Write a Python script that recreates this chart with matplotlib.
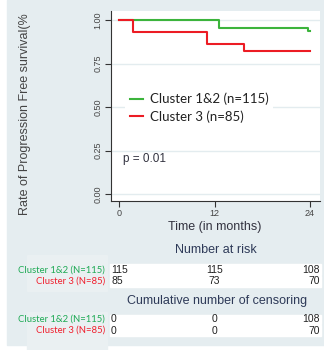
import matplotlib
matplotlib.use("Agg")
import matplotlib.pyplot as plt
from matplotlib.patches import Rectangle
from matplotlib import transforms

# survival curves (step functions)
times_12 = [0, 12.6, 23.8, 24]
surv_12 = [1.0, 0.956, 0.939, 0.939]
times_3 = [0, 1.8, 11.1, 15.7, 24]
surv_3 = [1.0, 0.929, 0.864, 0.824, 0.824]

labels = ['Cluster 1&2 (n=115)', 'Cluster 3 (n=85)']
row_labels = ['Cluster 1&2 (N=115)', 'Cluster 3 (N=85)']
x_ticks = [0, 12, 24]
y_ticks = [0.0, 0.25, 0.5, 0.75, 1.0]

# tables under the plot
risk_12 = [115, 115, 108]
risk_3 = [85, 73, 70]
cens_12 = [0, 0, 108]
cens_3 = [0, 0, 70]

green = '#3cb43c'
red = '#ec1c24'
lab_green = '#1faa55'
lab_red = '#f0202e'
bg = '#e5edf0'
txt = '#333340'

W, H = 324, 350
plt.rcParams['font.family'] = ['Liberation Sans', 'DejaVu Sans']


def fx(px):
    return px / W


def fy(py):
    return 1 - py / H


fig = plt.figure(figsize=(W / 100, H / 100), dpi=100)
fig.patch.set_facecolor('white')

# gray panel
fig.patches.append(Rectangle((fx(7), fy(345)), fx(317), 345 / H,
                             transform=fig.transFigure, color=bg, zorder=-10))
# lighter columns behind the row labels
for top, bot in [(255, 291), (312, 350)]:
    fig.patches.append(Rectangle((fx(27), fy(bot)), fx(80), (bot - top) / H,
                                 transform=fig.transFigure, color='#eaf0f2', zorder=-9))
# white strips behind table rows
for top, bot in [(264, 275), (276, 287), (315, 323.5), (324.5, 336)]:
    fig.patches.append(Rectangle((fx(110), fy(bot)), fx(211), (bot - top) / H,
                                 transform=fig.transFigure, color='white', zorder=-8))

ax = fig.add_axes([fx(111), fy(201), fx(209), (201 - 11) / H])
ax.set_facecolor('white')
ax.set_xlim(-1.0, 25.25)
ax.set_ylim(-0.040, 1.052)

for y in y_ticks:
    ax.axhline(y, color='#e3ecef', lw=1.0, zorder=0)

l1, = ax.step(times_12, surv_12, where='post', color=green, lw=1.5, label=labels[0])
l2, = ax.step(times_3, surv_3, where='post', color=red, lw=1.5, label=labels[1])

ax.spines['top'].set_visible(False)
ax.spines['right'].set_visible(False)
for s in ['left', 'bottom']:
    ax.spines[s].set_color('#333333')
    ax.spines[s].set_linewidth(0.8)

ax.set_xticks(x_ticks)
ax.set_yticks(y_ticks)
ax.set_yticklabels(['%.2f' % v for v in y_ticks])
ax.tick_params(axis='both', length=4, width=0.8, color='#333333', labelsize=6.5,
               labelcolor='#444444', pad=2)
plt.setp(ax.get_yticklabels(), rotation=90, va='center')

leg = ax.legend(handles=[l1, l2], loc='upper left',
                bbox_to_anchor=((125 - 111) / 209, (201 - 88) / 190),
                borderaxespad=0, frameon=True, fancybox=False, framealpha=1,
                facecolor='white', edgecolor='none', handlelength=1.0,
                handletextpad=0.55, labelspacing=0.4, borderpad=0.35,
                prop={'family': ['Lato', 'DejaVu Sans'], 'size': 9.5})
for t in leg.get_texts():
    t.set_color('#222222')

ax.text(0.5, 0.2, 'p = 0.01', transform=ax.transData, fontsize=8.5, color=txt,
        ha='left', va='center')

fig.text(fx(25), fy(215), 'Rate of Progression Free survival(%', rotation=90,
         ha='center', va='bottom', fontsize=9, color='#444444')

fig.text(fx(215), fy(227), 'Time (in months)', ha='center', va='center',
         fontsize=9, color=txt)
fig.text(fx(216), fy(250), 'Number at risk', ha='center', va='center',
         fontsize=9, color='#2e3a58')
fig.text(fx(217), fy(301), 'Cumulative number of censoring', ha='center',
         va='center', fontsize=9, color='#2e3a58')

# table numbers, columns tied to the x axis
tr = transforms.blended_transform_factory(ax.transData, fig.transFigure)
x0, x1 = ax.get_xlim()
cols = [(x0, 'left'), (x_ticks[1], 'center'), (x1, 'right')]


def table_rows(rows, ys):
    for vals, yy, lab, c in zip(rows, ys, row_labels, [lab_green, lab_red]):
        fig.text(fx(105), fy(yy), lab, ha='right', va='center', fontsize=6.8,
                 color=c, family=['Lato', 'DejaVu Sans'])
        for v, (xc, ha) in zip(vals, cols):
            ax.text(xc, fy(yy), str(v), transform=tr, ha=ha, va='center',
                    fontsize=7.5, color='#222222', clip_on=False)


table_rows([risk_12, risk_3], [270, 281])
table_rows([cens_12, cens_3], [319.5, 330.5])

fig.savefig('out.png', dpi=100, facecolor=fig.get_facecolor())
